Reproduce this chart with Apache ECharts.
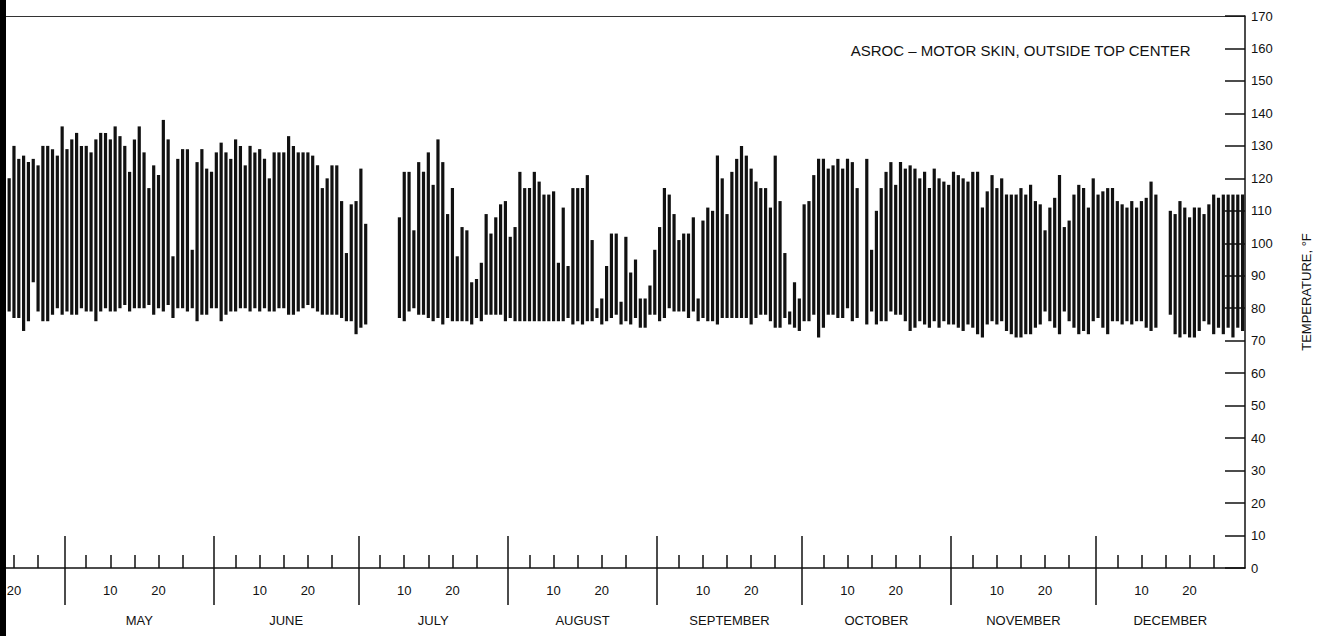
<!DOCTYPE html>
<html>
<head>
<meta charset="utf-8">
<script src="https://cdn.jsdelivr.net/npm/echarts@6/dist/echarts.min.js"></script>
<style>
  html, body { margin: 0; padding: 0; background: #fff; }
  #chart { width: 1329px; height: 636px; }
</style>
</head>
<body>
<div id="chart"></div>
<script>
// months shown on the chart (day-of-year before April 1 = 90)
const monthNames = ["APRIL", "MAY", "JUNE", "JULY", "AUGUST", "SEPTEMBER", "OCTOBER", "NOVEMBER", "DECEMBER"];
const monthLengths = [30, 31, 30, 31, 31, 30, 31, 30, 31];
const daysBeforeApril = 90;
const firstDay = [18, 1, 1, 1, 1, 1, 1, 1, 1];
const tickDays = [5, 10, 15, 20, 25];
const labelDays = [10, 20];

// daily max / min skin temperature, deg F (null = no record)
const aprHigh = [128, 120, 130, 126, 127, 125, 126, 124, 130, 130, 129, 127, 136];
const aprLow  = [70, 79, 77, 77, 73, 76, 88, 79, 76, 76, 78, 80, 78];
const mayHigh = [129, 132, 134, 130, 130, 128, 132, 134, 134, 132, 136, 133, 130, 122, 132, 136, 128, 117, 124, 121, 138, 132, 96, 126, 129, 129, 98, 125, 129, 123, 122];
const mayLow  = [79, 78, 78, 80, 79, 79, 76, 79, 80, 79, 79, 80, 81, 79, 80, 80, 80, 81, 78, 80, 79, 81, 77, 80, 80, 79, 80, 76, 78, 78, 80];
const junHigh = [128, 131, 128, 126, 132, 130, 124, 130, 128, 129, 126, 120, 128, 128, 128, 133, 130, 128, 128, 128, 127, 124, 117, 120, 124, 124, 113, 97, 112, 113];
const junLow  = [80, 76, 78, 79, 79, 80, 80, 79, 80, 79, 80, 79, 79, 80, 80, 78, 78, 79, 80, 81, 80, 79, 78, 78, 78, 78, 77, 76, 76, 72];
const julHigh = [123, 106, null, null, null, null, null, null, 108, 122, 122, 104, 125, 122, 128, 118, 132, 125, 109, 117, 96, 105, 104, 88, 89, 94, 109, 103, 108, 112, 113];
const julLow  = [74, 75, null, null, null, null, null, null, 77, 76, 79, 80, 78, 78, 77, 76, 77, 75, 77, 76, 76, 76, 76, 75, 77, 76, 78, 78, 78, 78, 76];
const augHigh = [102, 105, 122, 117, 117, 122, 119, 115, 115, 116, 94, 111, 93, 117, 117, 117, 121, 101, 80, 83, 93, 103, 103, 82, 102, 91, 95, 83, 83, 87, 98];
const augLow  = [77, 76, 76, 76, 76, 76, 76, 76, 76, 76, 76, 76, 77, 75, 76, 75, 76, 76, 77, 75, 76, 77, 78, 75, 76, 75, 77, 74, 74, 78, 78];
const sepHigh = [105, 117, 115, 109, 101, 103, 103, 108, 83, 107, 111, 110, 127, 120, 109, 122, 126, 130, 127, 123, 119, 117, 117, 111, 127, 113, 97, 79, 88, 83];
const sepLow  = [76, 77, 80, 79, 79, 79, 77, 79, 76, 77, 76, 76, 75, 77, 77, 77, 77, 77, 77, 75, 77, 78, 78, 76, 74, 74, 77, 75, 74, 73];
const octHigh = [112, 113, 121, 126, 126, 123, 124, 126, 123, 126, 125, 117, null, 126, 98, 110, 117, 122, 125, 118, 125, 123, 124, 123, 120, 122, 117, 123, 120, 119, 118];
const octLow  = [76, 76, 78, 71, 74, 78, 78, 77, 77, 80, 76, 77, null, 75, 79, 75, 76, 76, 79, 78, 78, 76, 73, 74, 76, 75, 74, 76, 74, 76, 75];
const novHigh = [122, 121, 120, 119, 122, 122, 111, 116, 121, 117, 120, 115, 115, 115, 117, 115, 118, 113, 112, 104, 111, 114, 121, 105, 107, 115, 118, 117, 111, 120];
const novLow  = [75, 74, 73, 75, 74, 72, 71, 75, 76, 75, 76, 73, 72, 71, 71, 72, 72, 74, 75, 79, 76, 74, 72, 79, 76, 74, 72, 73, 72, 76];
const decHigh = [115, 116, 117, 117, 113, 112, 111, 113, 111, 113, 114, 119, 115, null, null, 110, 109, 113, 111, 108, 111, 111, 109, 112, 115, 114, 115, 115, 115, 115, 115];
const decLow  = [77, 74, 72, 76, 76, 75, 76, 75, 76, 76, 74, 73, 74, null, null, 78, 72, 71, 72, 71, 71, 73, 76, 75, 72, 74, 72, 74, 71, 74, 73];

const highs = [aprHigh, mayHigh, junHigh, julHigh, augHigh, sepHigh, octHigh, novHigh, decHigh];
const lows  = [aprLow, mayLow, junLow, julLow, augLow, sepLow, octLow, novLow, decLow];

// x axis is continuous day-of-year; day N occupies [N-1, N]
const xMin = 106.6, xMax = 365;
const monthStart = [];
let acc = daysBeforeApril;
monthLengths.forEach(len => { monthStart.push(acc); acc += len; });

const dayBars = [];
highs.forEach((hi, m) => {
  hi.forEach((h, k) => {
    if (h == null) return;
    dayBars.push([monthStart[m] + firstDay[m] + k - 0.5, lows[m][k], h]);
  });
});

const inRange = v => v >= xMin && v <= xMax;
const tickValues = [], labelValues = [], labelTexts = [];
monthStart.forEach(s => {
  tickDays.forEach(d => { if (inRange(s + d - 0.5)) tickValues.push(s + d - 0.5); });
  labelDays.forEach(d => {
    if (inRange(s + d - 0.5)) { labelValues.push(s + d - 0.5); labelTexts.push(String(d)); }
  });
});
const boundaryValues = monthStart.filter(s => s > xMin);
const monthCenters = monthStart.map((s, i) => s + monthLengths[i] / 2);

const lookup = (vals, texts) => v => {
  const i = vals.findIndex(x => Math.abs(x - v) < 0.01);
  return i < 0 ? "" : texts[i];
};

const font = "'Liberation Sans', Arial, sans-serif";
const ink = "#111";

const chart = echarts.init(document.getElementById("chart"), null, { renderer: "svg" });
chart.setOption({
  backgroundColor: "#fff",
  animation: false,
  textStyle: { fontFamily: font, color: ink },
  title: {
    text: "ASROC \u2013 MOTOR SKIN, OUTSIDE TOP CENTER",
    right: 133, top: 38,
    textStyle: { fontFamily: font, fontSize: 15, fontWeight: "normal", color: ink }
  },
  grid: { left: 0, right: 84, top: 16, bottom: 68 },
  xAxis: [
    { // baseline, 5-day ticks and 10/20 labels
      type: "value", min: xMin, max: xMax, position: "bottom",
      axisLine: { show: true, lineStyle: { color: ink, width: 1.5 } },
      axisTick: { show: true, inside: true, length: 13, customValues: tickValues, lineStyle: { color: ink, width: 1.5 } },
      axisLabel: { show: true, customValues: labelValues, formatter: lookup(labelValues, labelTexts), margin: 16, fontSize: 13, color: ink, fontFamily: font },
      splitLine: { show: false }
    },
    { // month boundaries, above baseline
      type: "value", min: xMin, max: xMax, position: "bottom",
      axisLine: { show: false },
      axisTick: { show: true, inside: true, length: 32, customValues: boundaryValues, lineStyle: { color: ink, width: 1.5 } },
      axisLabel: { show: false },
      splitLine: { show: false }
    },
    { // month boundaries, below baseline
      type: "value", min: xMin, max: xMax, position: "bottom",
      axisLine: { show: false },
      axisTick: { show: true, inside: false, length: 37, customValues: boundaryValues, lineStyle: { color: ink, width: 1.5 } },
      axisLabel: { show: false },
      splitLine: { show: false }
    },
    { // month names
      type: "value", min: xMin, max: xMax, position: "bottom",
      axisLine: { show: false },
      axisTick: { show: false },
      axisLabel: { show: true, customValues: monthCenters, formatter: lookup(monthCenters, monthNames), margin: 46, fontSize: 13, color: ink, fontFamily: font },
      splitLine: { show: false }
    },
    { // top border
      type: "value", min: xMin, max: xMax, position: "top",
      axisLine: { show: true, lineStyle: { color: "#333", width: 1.2 } },
      axisTick: { show: false },
      axisLabel: { show: false },
      splitLine: { show: false }
    }
  ],
  yAxis: {
    type: "value", min: 0, max: 170, interval: 10, position: "right",
    name: "TEMPERATURE, \u00B0F", nameLocation: "middle", nameRotate: 90, nameGap: 55,
    nameTextStyle: { fontSize: 13, color: ink, fontFamily: font },
    axisLine: { show: true, lineStyle: { color: ink, width: 1.5 } },
    axisTick: { show: true, inside: true, length: 20, lineStyle: { color: ink, width: 1.5 } },
    axisLabel: { margin: 6, fontSize: 13, color: ink, fontFamily: font },
    splitLine: { show: false }
  },
  graphic: [
    { type: "rect", left: 0, top: 0, shape: { width: 6, height: 636 }, style: { fill: "#000" }, z: 100 }
  ],
  series: [{
    type: "custom",
    xAxisIndex: 0,
    data: dayBars,
    encode: { x: 0, y: [1, 2] },
    renderItem: (params, api) => {
      const top = api.coord([api.value(0), api.value(2)]);
      const bot = api.coord([api.value(0), api.value(1)]);
      return {
        type: "rect",
        shape: { x: top[0] - 1.6, y: top[1], width: 3.2, height: bot[1] - top[1] },
        style: { fill: ink }
      };
    }
  }]
});
</script>
</body>
</html>
